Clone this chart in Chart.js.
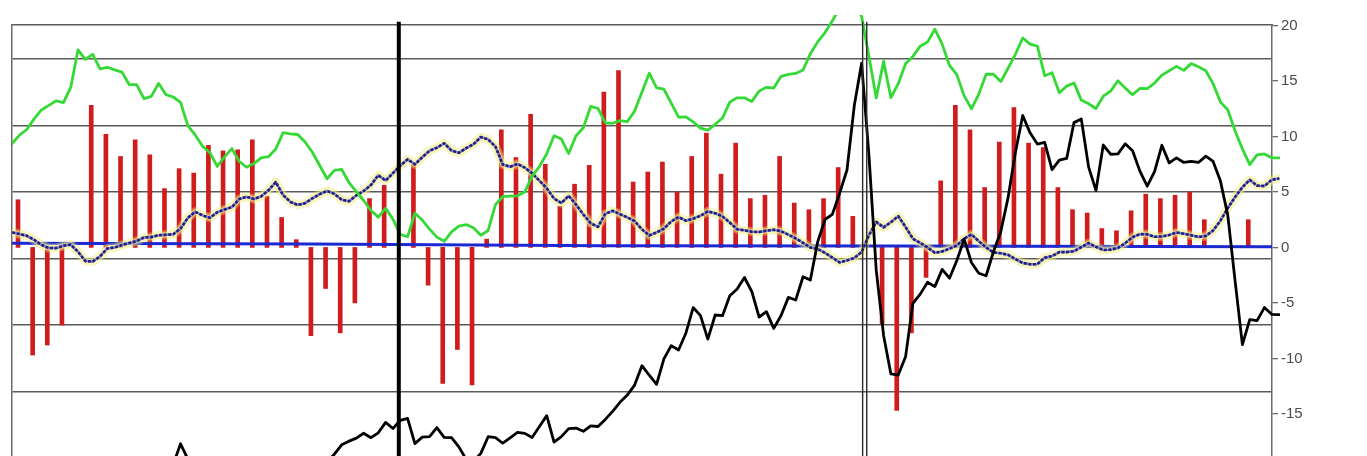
<!DOCTYPE html>
<html>
<head>
<meta charset="utf-8">
<script src="https://cdn.jsdelivr.net/npm/chart.js@4.4.1/dist/chart.umd.min.js"></script>
<style>
    html, body { margin: 0; padding: 0; background: #ffffff; }
    #wrap { position: relative; width: 1367px; height: 456px; }
</style>
</head>
<body>
<div id="wrap"><canvas id="mainChart"></canvas></div>
<script>
// --- Data ---
// monthly red bars, one per slot 0..85
const barValues = [4.3, -9.7, -8.8, -7.0, null, 12.8, 10.2, 8.2, 9.7, 8.35,
    5.3, 7.1, 6.7, 9.2, 8.7, 8.8, 9.7, 4.6, 2.7, 0.7,
    -7.95, -3.7, -7.7, -5.0, 4.4, 5.6, null, 7.5, -3.4, -12.25,
    -9.2, -12.4, 0.75, 10.6, 8.1, 12.0, 7.5, 3.7, 5.7, 7.4,
    14.0, 15.95, 5.9, 6.8, 7.7, 5.0, 8.2, 10.3, 6.6, 9.4,
    4.4, 4.7, 8.2, 4.0, 3.4, 4.4, 7.2, 2.8, null, -6.9,
    -14.7, -7.7, -2.7, 6.0, 12.8, 10.6, 5.4, 9.5, 12.6, 9.4,
    9.0, 5.4, 3.4, 3.1, 1.7, 1.5, 3.3, 4.8, 4.4, 4.7,
    5.0, 2.5, null, null, 2.5, null];

// line series, sampled every half slot starting at slot -0.4
const lineStart = -0.4;
const lineStep = 0.5;

const greenValues = [9.37, 10.13, 10.63, 11.59, 12.39, 12.81, 13.21, 13.05, 14.42, 17.81,
    16.95, 17.41, 16.09, 16.24, 16.01, 15.80, 14.67, 14.68, 13.41, 13.62,
    14.79, 13.77, 13.56, 13.08, 10.95, 10.14, 9.13, 8.54, 7.30, 8.16,
    8.91, 7.77, 7.23, 7.56, 8.08, 8.18, 8.87, 10.35, 10.23, 10.18,
    9.50, 8.58, 7.39, 6.19, 6.94, 7.03, 5.85, 5.04, 4.23, 3.33,
    2.73, 3.52, 2.55, 1.17, 0.96, 3.09, 2.47, 1.65, 0.93, 0.55,
    1.41, 1.92, 2.06, 1.78, 1.10, 1.53, 3.85, 4.59, 4.62, 4.65,
    4.99, 6.43, 7.28, 8.44, 10.07, 9.77, 8.46, 10.07, 10.79, 12.71,
    12.54, 11.22, 11.19, 11.43, 11.33, 12.29, 13.98, 15.71, 14.38, 14.26,
    13.00, 11.74, 11.77, 11.32, 10.75, 10.58, 11.10, 11.67, 13.10, 13.49,
    13.49, 13.15, 14.09, 14.43, 14.37, 15.42, 15.60, 15.68, 16.00, 17.45,
    18.53, 19.37, 20.41, 21.6, 22.8, 22.3, 20.81, 17.23, 13.48, 16.77,
    13.50, 14.76, 16.56, 17.22, 18.14, 18.51, 19.68, 18.33, 16.40, 15.58,
    13.66, 12.50, 13.82, 15.61, 15.61, 14.95, 16.15, 17.41, 18.88, 18.32,
    18.15, 15.48, 15.74, 13.94, 14.54, 14.83, 13.28, 12.95, 12.52, 13.63,
    14.09, 15.02, 14.36, 13.76, 14.33, 14.32, 14.82, 15.53, 15.93, 16.32,
    15.96, 16.57, 16.28, 15.93, 14.76, 13.10, 12.41, 10.49, 8.88, 7.46,
    8.34, 8.43, 8.08, 8.08];

const blackValues = [-21.0, -20.8, -20.5, -21.2, -20.6, -20.9, -21.3, -20.7, -20.4, -20.9,
    -21.1, -20.5, -20.2, -20.6, -20.8, -20.3, -20.1, -20.4, -19.9, -20.2,
    -19.8, -19.6, -19.55, -17.7, -19.1, -19.8, -20.3, -20.1, -20.6, -20.4,
    -20.7, -20.5, -20.9, -20.6, -20.3, -20.5, -20.2, -20.4, -20.0, -20.3,
    -19.9, -20.1, -19.7, -19.3, -18.64, -17.79, -17.46, -17.19, -16.75, -17.15,
    -16.71, -15.77, -16.32, -15.59, -15.41, -17.68, -17.10, -17.06, -16.24, -17.12,
    -17.15, -17.98, -19.1, -19.3, -18.56, -17.06, -17.15, -17.65, -17.17, -16.67,
    -16.76, -17.14, -16.14, -15.16, -17.54, -17.05, -16.33, -16.28, -16.57, -16.08,
    -16.14, -15.50, -14.78, -13.96, -13.31, -12.41, -10.66, -11.52, -12.34, -10.05,
    -8.85, -9.24, -7.73, -5.42, -6.15, -8.26, -6.09, -6.15, -4.35, -3.74,
    -2.71, -3.97, -6.27, -5.79, -7.30, -6.13, -4.50, -4.74, -2.64, -2.94,
    0.50, 2.52, 2.98, 4.89, 6.98, 12.79, 16.6, 8.32, -2.07, -7.93,
    -11.4, -11.5, -9.86, -5.05, -4.21, -3.14, -3.53, -1.98, -2.77, -1.18,
    0.75, -1.36, -2.33, -2.55, -0.39, 1.42, 4.49, 8.56, 11.89, 10.33,
    9.32, 9.47, 7.01, 7.87, 8.02, 11.25, 11.57, 7.24, 5.14, 9.23,
    8.40, 8.43, 9.34, 8.71, 6.88, 5.52, 6.84, 9.21, 7.62, 8.07,
    7.66, 7.75, 7.66, 8.23, 7.75, 5.98, 2.91, -3.02, -8.76, -6.50,
    -6.60, -5.42, -6.03, -6.06];

const navyValues = [1.35, 1.21, 1.05, 0.69, 0.23, -0.05, -0.06, 0.15, 0.25, -0.39,
    -1.23, -1.27, -0.81, -0.09, 0.00, 0.21, 0.40, 0.57, 0.90, 0.93,
    1.10, 1.14, 1.19, 1.70, 2.67, 3.21, 2.89, 2.67, 3.17, 3.42,
    3.63, 4.36, 4.56, 4.37, 4.60, 5.15, 5.89, 4.72, 4.10, 3.83,
    3.99, 4.43, 4.80, 5.09, 4.83, 4.30, 4.16, 4.69, 5.09, 5.62,
    6.51, 6.03, 6.70, 7.37, 7.94, 7.49, 8.13, 8.72, 8.99, 9.39,
    8.73, 8.53, 8.95, 9.30, 9.95, 9.74, 9.09, 7.47, 7.27, 7.53,
    7.19, 6.68, 6.02, 5.33, 4.41, 4.00, 4.66, 3.87, 2.97, 2.18,
    1.86, 3.03, 3.30, 3.00, 2.70, 2.38, 1.63, 1.08, 1.35, 1.70,
    2.34, 2.74, 2.41, 2.59, 2.86, 3.24, 3.08, 2.80, 2.24, 1.64,
    1.54, 1.42, 1.39, 1.50, 1.60, 1.46, 1.15, 0.81, 0.42, -0.01,
    -0.14, -0.49, -0.92, -1.35, -1.17, -0.95, -0.42, 1.10, 2.30, 1.81,
    2.28, 2.82, 1.84, 0.79, 0.41, 0.00, -0.48, -0.36, -0.11, 0.18,
    0.80, 1.17, 0.56, -0.01, -0.45, -0.52, -0.67, -1.05, -1.40, -1.51,
    -1.51, -0.93, -0.78, -0.42, -0.42, -0.34, 0.02, 0.39, 0.05, -0.23,
    -0.20, -0.05, 0.39, 0.92, 1.20, 1.18, 0.96, 0.98, 1.13, 1.35,
    1.24, 1.10, 0.94, 1.04, 1.53, 2.41, 3.55, 4.54, 5.43, 6.09,
    5.57, 5.53, 6.10, 6.21];

// flat blue reference line
const baseSlots = [-0.41, 20, 40, 60, 85.62];
const baseValues = [0.38, 0.32, 0.15, 0.12, 0.06];

// vertical marker lines (slot positions)
const markerSlots = [26, 57.67, 57.95];
const markerTop = 20.35;
const markerBottom = -19.5;

// axis labels / grid
const rightTicks = [20, 15, 10, 5, 0, -5, -10, -15];
const gridTicks = [17, 11, 5, -1, -7, -13];
const yMin = -18.8;
const yMax = 20.05;
const xMin = -0.41;
const xMax = 85.62;

// --- Helpers ---
function toPoints(values) {
    return values.map((v, k) => ({ x: lineStart + k * lineStep, y: v }));
}

const lineClip = { left: 0, top: 10, right: 8, bottom: 0 };

function lineSet(label, values, color, width, order, extra) {
    return Object.assign({
        type: 'line',
        label: label,
        data: toPoints(values),
        borderColor: color,
        borderWidth: width,
        pointRadius: 0,
        tension: 0,
        borderJoinStyle: 'round',
        borderCapStyle: 'round',
        clip: lineClip,
        order: order
    }, extra || {});
}

function markerSet(slot, width, color) {
    return {
        type: 'line',
        label: 'marker',
        data: [{ x: slot, y: markerTop }, { x: slot, y: markerBottom }],
        borderColor: color,
        borderWidth: width,
        pointRadius: 0,
        clip: { left: 0, top: 4, right: 0, bottom: 0 },
        order: 0
    };
}

// no label padding at the ends of the value axis
function noEndPadding(s) {
    s.paddingTop = 0;
    s.paddingBottom = 0;
}

// --- Chart ---
const datasets = [
    {
        type: 'bar',
        label: 'bars',
        data: barValues.map((v, i) => ({ x: i, y: v })),
        backgroundColor: '#d01c1c',
        borderWidth: 0,
        barThickness: 4,
        order: 9
    },
    {
        type: 'line',
        label: 'base',
        data: baseSlots.map((s, i) => ({ x: s, y: baseValues[i] })),
        borderColor: '#1c28d0',
        borderWidth: 3,
        pointRadius: 0,
        order: 8
    },
    lineSet('glow', navyValues, 'rgba(238, 232, 110, 0.4)', 9, 7),
    lineSet('glow2', navyValues, 'rgba(246, 242, 170, 0.55)', 5.5, 6),
    lineSet('navyBase', navyValues, '#8c8cc0', 2.5, 5),
    lineSet('navy', navyValues, '#1e1e86', 2.6, 4, { borderDash: [3, 1.6], borderCapStyle: 'butt' }),
    lineSet('green', greenValues, '#35d935', 2.8, 3),
    lineSet('black', blackValues, '#000000', 2.8, 2),
    markerSet(markerSlots[0], 4, '#000000'),
    markerSet(markerSlots[1], 1.4, '#2a2a2a'),
    markerSet(markerSlots[2], 1.4, '#2a2a2a')
];

new Chart(document.getElementById('mainChart'), {
    data: { datasets: datasets },
    options: {
        responsive: true,
        maintainAspectRatio: false,
        animation: false,
        events: [],
        layout: { padding: { top: 25, left: 12, right: 0, bottom: 0 } },
        plugins: { legend: { display: false }, tooltip: { enabled: false } },
        scales: {
            x: {
                type: 'linear',
                position: 'top',
                offset: false,
                min: xMin,
                max: xMax,
                ticks: { display: false },
                grid: { display: false, drawTicks: false, offset: false },
                border: { display: true, color: '#5a5a5a', width: 1.5 },
                afterFit: s => { s.height = 0; s.paddingLeft = 0; s.paddingRight = 0; }
            },
            yGrid: {
                type: 'linear',
                position: 'left',
                min: yMin,
                max: yMax,
                ticks: { display: false },
                grid: { color: '#5a5a5a', lineWidth: 1.5, drawTicks: false },
                border: { display: true, color: '#6a6a6a', width: 1.5 },
                afterBuildTicks: s => { s.ticks = gridTicks.map(v => ({ value: v })); },
                afterFit: s => { s.width = 0; noEndPadding(s); }
            },
            y: {
                type: 'linear',
                position: 'right',
                min: yMin,
                max: yMax,
                grid: { drawOnChartArea: false, drawTicks: true, tickLength: 6, color: '#6a6a6a', lineWidth: 1.3 },
                border: { display: true, color: '#6a6a6a', width: 1.5 },
                ticks: {
                    padding: 3,
                    color: '#4a4a4a',
                    font: { family: "'Liberation Sans', Arial, sans-serif", size: 15 }
                },
                afterBuildTicks: s => { s.ticks = rightTicks.map(v => ({ value: v })); },
                afterFit: s => { s.width = 95; noEndPadding(s); }
            }
        }
    }
});
</script>
</body>
</html>
